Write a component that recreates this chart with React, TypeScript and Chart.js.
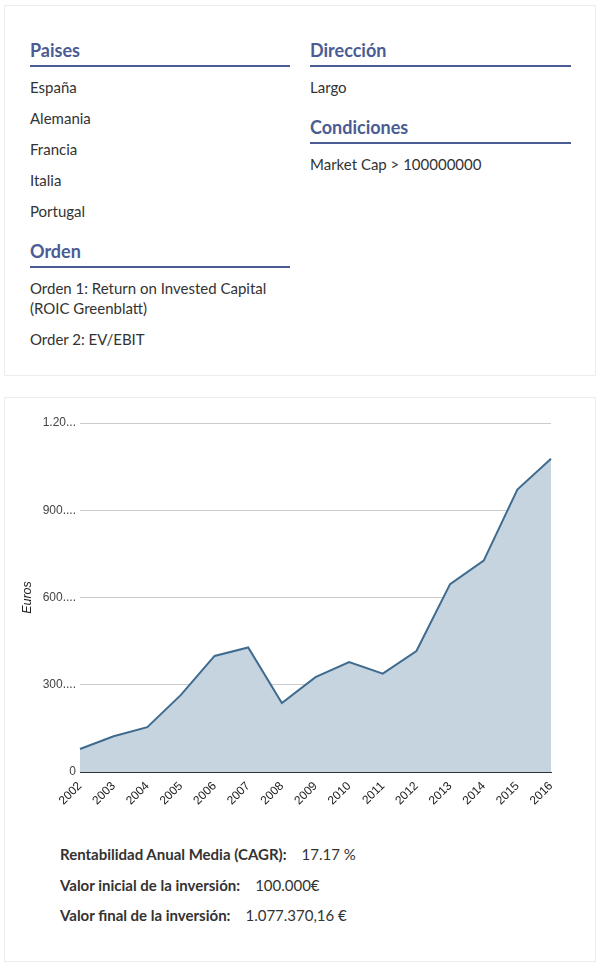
import React, { useEffect, useRef } from "react";
import { Chart, registerables } from "chart.js";

Chart.register(...registerables);

// Portfolio value at the end of each year (euros)
const years = ["2002", "2003", "2004", "2005", "2006", "2007", "2008", "2009", "2010", "2011", "2012", "2013", "2014", "2015", "2016"];
const portfolioValues = [79000, 123000, 154000, 265000, 399000, 428000, 237000, 326000, 378000, 338000, 416000, 646000, 727000, 971000, 1077370.16];
const yMax = 1200000;
const yStep = 300000;

const countries = ["España", "Alemania", "Francia", "Italia", "Portugal"];
const orderRules = ["Orden 1: Return on Invested Capital (ROIC Greenblatt)", "Order 2: EV/EBIT"];
const directions = ["Largo"];
const conditions = ["Market Cap > 100000000"];
const summary = [
  { label: "Rentabilidad Anual Media (CAGR):", value: "17.17 %" },
  { label: "Valor inicial de la inversión:", value: "100.000€" },
  { label: "Valor final de la inversión:", value: "1.077.370,16 €" },
];

const HEAD = "#4a5c93";
const TEXT = "#333";
const LATO = "Lato, 'Noto Sans', sans-serif";
const CHART_FONT = "Arial, 'Liberation Sans', sans-serif";

// Spanish thousands grouping, then clipped to a short label the way the axis shows it
function axisLabel(v: number): string {
  const s = Math.round(v).toString().replace(/\B(?=(\d{3})+(?!\d))/g, ".");
  return s.length > 4 ? s.slice(0, 4) + "..." : s;
}

function Section({ title, items, first }: { title: string; items: string[]; first?: boolean }) {
  return (
    <div style={{ marginTop: first ? 0 : 18 }}>
      <div
        style={{
          fontFamily: LATO,
          fontWeight: 700,
          fontSize: 18,
          lineHeight: "22px",
          color: HEAD,
          paddingBottom: 4,
          borderBottom: `2px solid ${HEAD}`,
        }}
      >
        {title}
      </div>
      {items.map((t) => (
        <div
          key={t}
          style={{ fontFamily: LATO, fontSize: 15, lineHeight: "20px", color: TEXT, marginTop: 10, paddingBottom: 1 }}
        >
          {t}
        </div>
      ))}
    </div>
  );
}

function ValueChart() {
  const ref = useRef<HTMLCanvasElement | null>(null);
  useEffect(() => {
    if (!ref.current) return;
    const chart = new Chart(ref.current, {
      type: "line",
      data: {
        labels: years,
        datasets: [
          {
            data: portfolioValues,
            borderColor: "#3f6b8f",
            backgroundColor: "#c6d4e0",
            borderWidth: 2,
            fill: "origin",
            pointRadius: 0,
            tension: 0,
          },
        ],
      },
      options: {
        responsive: false,
        animation: false,
        layout: { padding: { left: 0, top: 25, right: 44, bottom: 0 } },
        plugins: { legend: { display: false }, tooltip: { enabled: false } },
        scales: {
          x: {
            offset: false,
            grid: { display: false, drawTicks: false },
            border: { display: true, color: "#333", width: 1 },
            ticks: {
              autoSkip: false,
              minRotation: 45,
              maxRotation: 45,
              padding: 7,
              color: "#222",
              font: { family: CHART_FONT, size: 12 },
            },
            afterFit: (s: any) => {
              s.height = 46;
            },
          },
          y: {
            min: 0,
            max: yMax,
            border: { display: false },
            grid: {
              drawTicks: false,
              color: (ctx: any) => (ctx.tick && ctx.tick.value === 0 ? "#333" : "#cccccc"),
              lineWidth: 1,
            },
            ticks: {
              stepSize: yStep,
              padding: 4,
              color: "#444",
              font: { family: CHART_FONT, size: 12 },
              callback: (v: any) => axisLabel(Number(v)),
            },
            title: {
              display: true,
              text: "Euros",
              color: "#222",
              font: { family: CHART_FONT, size: 12.5, style: "italic" },
              padding: { top: 15, bottom: 0 },
            },
            afterFit: (s: any) => {
              s.width = 75;
            },
          },
        },
      },
    });
    return () => chart.destroy();
  }, []);
  return <canvas ref={ref} width={590} height={420} style={{ position: "absolute", left: 0, top: 0 }} />;
}

export default function App() {
  useEffect(() => {
    document.body.style.margin = "0";
    document.body.style.background = "#fff";
  }, []);

  const panel: React.CSSProperties = {
    position: "absolute",
    left: 4,
    width: 590,
    border: "1px solid #ececec",
    background: "#fff",
  };

  return (
    <div style={{ position: "relative", width: 604, height: 968 }}>
      <div style={{ ...panel, top: 5, height: 369 }}>
        <div style={{ position: "absolute", left: 25, top: 33, width: 260 }}>
          <Section title="Paises" items={countries} first />
          <Section title="Orden" items={orderRules} />
        </div>
        <div style={{ position: "absolute", left: 305, top: 33, width: 261 }}>
          <Section title="Dirección" items={directions} first />
          <Section title="Condiciones" items={conditions} />
        </div>
      </div>
      <div style={{ ...panel, top: 397, height: 563 }}>
        <ValueChart />
        <div style={{ position: "absolute", left: 55, top: 446 }}>
          {summary.map((r) => (
            <div
              key={r.label}
              style={{ fontFamily: LATO, fontSize: 15, lineHeight: "20px", color: TEXT, marginBottom: 10.5, whiteSpace: "nowrap" }}
            >
              <span style={{ fontWeight: 700 }}>{r.label}</span>
              <span style={{ marginLeft: 15 }}>{r.value}</span>
            </div>
          ))}
        </div>
      </div>
    </div>
  );
}
